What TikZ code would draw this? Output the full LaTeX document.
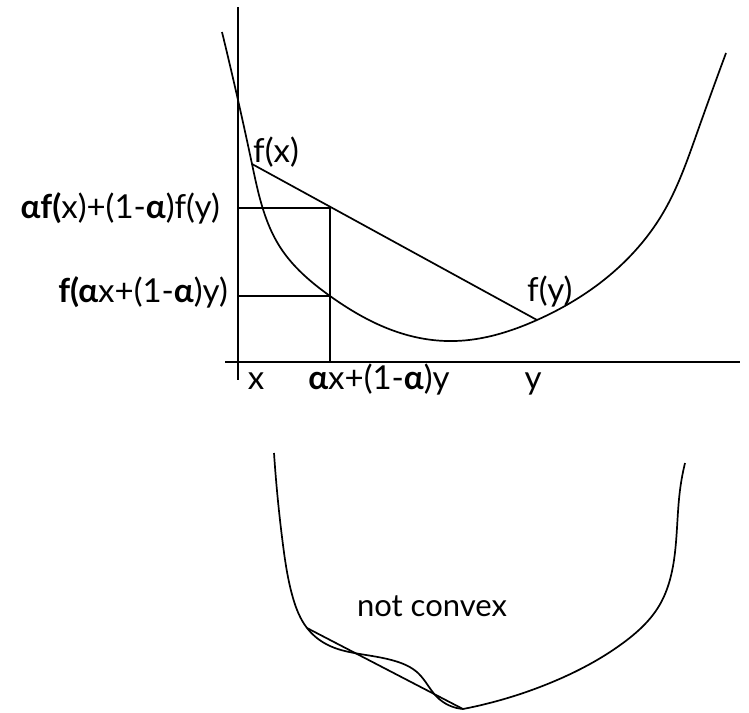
\documentclass[tikz,border=0pt]{standalone}
\usepackage{fontspec}
\setmainfont{Lato}
\usetikzlibrary{hobby}
\begin{document}
\begin{tikzpicture}[x=1pt,y=-1pt,
  line/.style={line width=1.7pt, black},
  curve/.style={line width=1.7pt, black, line join=round},
  lbl/.style={font=\fontsize{33}{38}\selectfont, inner sep=0pt}]
\useasboundingbox (0,0) rectangle (749,712);
% axes
\coordinate (ytop) at (238,7);
\coordinate (ybot) at (238,380);
\coordinate (xl) at (225,362);
\coordinate (xr) at (740,362);
\draw[line] (ytop) -- (ybot);
\draw[line] (xl) -- (xr);
% convex curve
\coordinate (fx) at (252,164);
\coordinate (fy) at (537,320);
\coordinate (fm) at (330,296);
\coordinate (chm) at (330,207.7);
\coordinate (axm) at (330,362);
\coordinate (ay1) at (238,207.7);
\coordinate (ay2) at (238,296);
\draw[curve, use Hobby shortcut] (222,32) .. (fx) .. (280,247) .. (fm) .. (407,335) .. (455,341) .. (fy) .. (600,283) .. (663,213) .. (697,133) .. (726,53);
% chord and guides
\draw[line] (fx) -- (fy);
\draw[line] (ay1) -- (chm) -- (axm);
\draw[line] (ay2) -- (fm);
% labels
\node[lbl, anchor=base west] (lfx) at (253,162) {f(x)};
\node[lbl, anchor=base west] (lfy) at (527,301) {f(y)};
\node[lbl, anchor=east] (l1) at (220,208) {{\bfseries αf(}x)+(1-{\bfseries α})f(y)};
\node[lbl, anchor=east] (l2) at (228,292) {{\bfseries f(α}x+(1-{\bfseries α})y)};
\node[lbl, anchor=base] (lx) at (256,389) {x};
\node[lbl, anchor=base] (lax) at (379,389) {{\bfseries α}x+(1-{\bfseries α})y};
\node[lbl, anchor=base] (ly) at (533,389) {y};
% non-convex curve
\coordinate (c1) at (307,628);
\coordinate (c2) at (463,709);
\draw[curve, use Hobby shortcut] (274,453) .. (283,545) .. (293,598) .. (c1) .. (330,646) .. (360,654) .. (395,661) .. (418,673) .. (437,697) .. (c2);
\draw[curve, use Hobby shortcut] (c2) .. (550,683) .. (623,643) .. (659,606) .. (674,560) .. (680,490) .. (685,463);
\draw[line] (c1) -- (c2);
\node[lbl, font=\fontsize{31}{36}\selectfont] (nc) at (432,606) {not convex};
\end{tikzpicture}
\end{document}
